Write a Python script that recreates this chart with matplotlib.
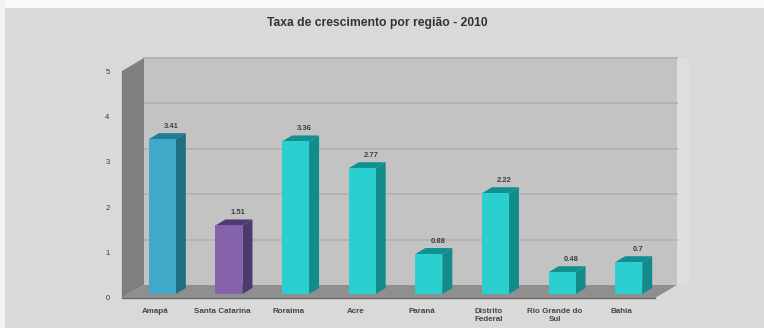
import matplotlib
matplotlib.use('Agg')
import matplotlib.pyplot as plt
from matplotlib.patches import Polygon, Rectangle

plt.rcParams['font.family'] = ['Liberation Sans', 'DejaVu Sans']

regions = ['Amapá', 'Santa Catarina', 'Roraima', 'Acre', 'Paraná',
           'Distrito\nFederal', 'Rio Grande do\nSul', 'Bahia']
growth = [3.41, 1.51, 3.36, 2.77, 0.88, 2.22, 0.48, 0.7]
y_ticks = [0, 1, 2, 3, 4, 5]

front_colors = ['#42a8c8', '#8463ab'] + ['#2bcfcf'] * 6
side_colors = ['#1f6e86', '#4c3a6e'] + ['#128b8b'] * 6
top_colors = ['#1f7c94', '#4f3b74'] + ['#119090'] * 6

W, H = 764, 328
fig = plt.figure(figsize=(W / 100, H / 100), dpi=100, facecolor='#d9d9d9')

# front plane of the 3D box, in figure fractions
left, right, top, bottom = 122, 655, 71, 298
ax = fig.add_axes([left / W, 1 - bottom / H, (right - left) / W, (bottom - top) / H])
ax.set_xlim(-0.5, 7.5)
ax.set_ylim(0, 5)
ax.patch.set_visible(False)
for s in ax.spines.values():
    s.set_visible(False)

px_x = (right - left) / 8
px_y = (bottom - top) / 5
wall_dx, wall_dy = 22 / px_x, 13 / px_y
bar_dx, bar_dy = 10 / px_x, 6 / px_y
lift = 4 / px_y
shift = 7 / px_x
bar_w = 27 / px_x


def add_poly(points, color, z):
    ax.add_patch(Polygon(points, closed=True, facecolor=color, edgecolor='none',
                         clip_on=False, zorder=z))


# back wall, side wall and floor
add_poly([(-0.5 + wall_dx, wall_dy), (7.5 + wall_dx, wall_dy),
          (7.5 + wall_dx, 5 + wall_dy), (-0.5 + wall_dx, 5 + wall_dy)], '#c3c3c3', 1)
add_poly([(-0.5, 0), (-0.5 + wall_dx, wall_dy),
          (-0.5 + wall_dx, 5 + wall_dy), (-0.5, 5)], '#808080', 2)
add_poly([(-0.5, 0), (7.5, 0), (7.5 + wall_dx, wall_dy), (-0.5 + wall_dx, wall_dy)], '#8f8f8f', 2)

# pale strip next to the back wall
ax.add_patch(Rectangle((7.5 + wall_dx, wall_dy), 12 / px_x, 5,
                       facecolor='#dedede', edgecolor='none', clip_on=False, zorder=1))

for t in y_ticks[1:]:
    ax.plot([-0.5 + wall_dx, 7.5 + wall_dx], [t + wall_dy] * 2, color='#afafaf',
            lw=1.2, clip_on=False, zorder=1.5)
ax.plot([-0.5, 7.5], [0, 0], color='#6a6a6a', lw=1, clip_on=False, zorder=3)
ax.plot([-0.5, -0.5], [0, 5], color='#757575', lw=0.8, clip_on=False, zorder=3)

# bars with side and top faces
for i, v in enumerate(growth):
    x0 = i + shift - bar_w / 2
    x1 = x0 + bar_w
    y1 = v + lift
    add_poly([(x1, lift), (x1 + bar_dx, lift + bar_dy), (x1 + bar_dx, y1 + bar_dy), (x1, y1)],
             side_colors[i], 4)
    add_poly([(x0, y1), (x1, y1), (x1 + bar_dx, y1 + bar_dy), (x0 + bar_dx, y1 + bar_dy)],
             top_colors[i], 4)
    ax.text(i + shift + 9 / px_x, y1 + 13 / px_y, f'{v:g}', ha='center', va='center',
            fontsize=5.5, fontweight='bold', color='#404040', zorder=6)
ax.bar([i + shift for i in range(len(growth))], growth, bar_w, bottom=lift,
       color=front_colors, zorder=5)

ax.set_yticks(y_ticks)
ax.set_xticks(range(len(regions)))
ax.set_xticklabels(regions, fontsize=5.8, fontweight='bold', color='#454545', linespacing=1.3, va='top')
ax.tick_params(axis='x', length=0, pad=7)
ax.tick_params(axis='y', length=0, pad=9, labelsize=5.5, labelcolor='#35356e')

fig.text(377 / W, 1 - 23 / H, 'Taxa de crescimento por região - 2010', ha='center', va='center',
         fontsize=8.7, fontweight='bold', color='#333333')

# white margins around the grey panel
fig.patches.append(Rectangle((0, 1 - 8 / H), 1, 8 / H, transform=fig.transFigure,
                             facecolor='#fafafa', edgecolor='none'))
fig.patches.append(Rectangle((0, 0), 5 / W, 1, transform=fig.transFigure,
                             facecolor='#f2f2f2', edgecolor='none'))

fig.savefig('out.png', dpi=100, facecolor=fig.get_facecolor())
